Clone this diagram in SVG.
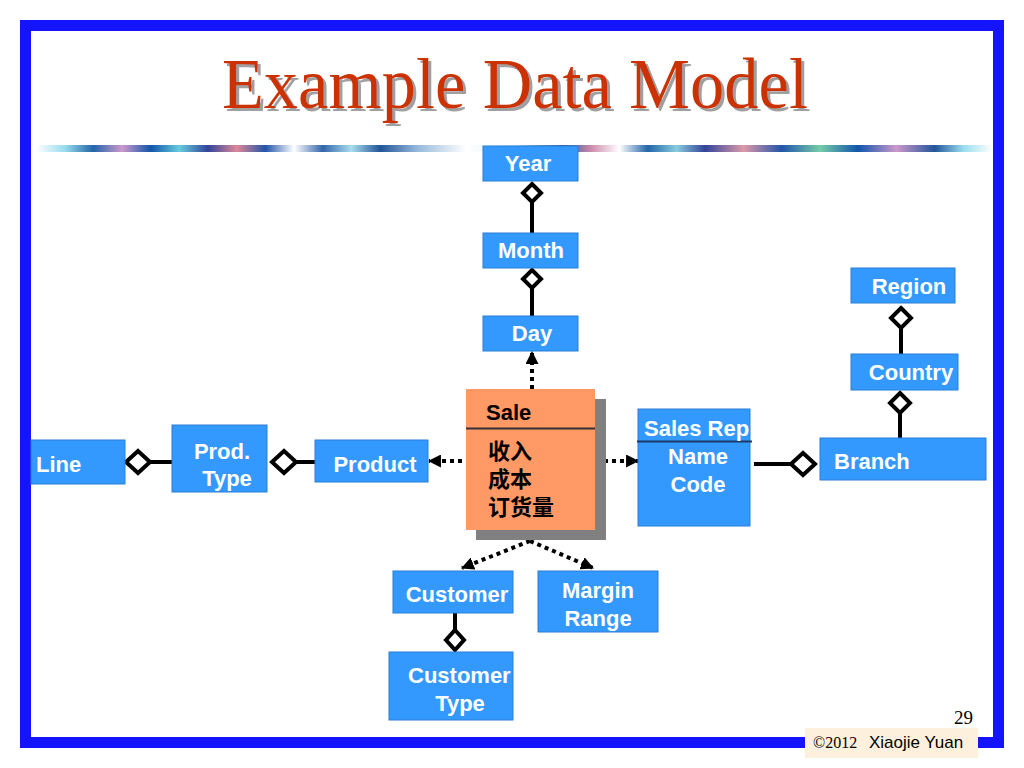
<svg xmlns="http://www.w3.org/2000/svg" width="1024" height="768" viewBox="0 0 1024 768">
<defs>
<linearGradient id="stripe" x1="0" y1="0" x2="1" y2="0">
<stop offset="0" stop-color="#ffffff"/>
<stop offset="0.03" stop-color="#99ddee"/>
<stop offset="0.06" stop-color="#2266aa"/>
<stop offset="0.09" stop-color="#cc99cc"/>
<stop offset="0.12" stop-color="#1155aa"/>
<stop offset="0.15" stop-color="#66ccdd"/>
<stop offset="0.18" stop-color="#334499"/>
<stop offset="0.21" stop-color="#dd8899"/>
<stop offset="0.24" stop-color="#2255aa"/>
<stop offset="0.27" stop-color="#ffffff"/>
<stop offset="0.30" stop-color="#3366aa"/>
<stop offset="0.33" stop-color="#aaddee"/>
<stop offset="0.36" stop-color="#225599"/>
<stop offset="0.40" stop-color="#99bbdd"/>
<stop offset="0.45" stop-color="#ffffff"/>
<stop offset="0.50" stop-color="#ddeeff"/>
<stop offset="0.55" stop-color="#225599"/>
<stop offset="0.58" stop-color="#cc88aa"/>
<stop offset="0.61" stop-color="#ffffff"/>
<stop offset="0.64" stop-color="#2266aa"/>
<stop offset="0.67" stop-color="#88ccdd"/>
<stop offset="0.70" stop-color="#334499"/>
<stop offset="0.74" stop-color="#dd99aa"/>
<stop offset="0.78" stop-color="#2255aa"/>
<stop offset="0.82" stop-color="#77ccaa"/>
<stop offset="0.86" stop-color="#1155aa"/>
<stop offset="0.90" stop-color="#cc99cc"/>
<stop offset="0.94" stop-color="#225599"/>
<stop offset="0.97" stop-color="#99ddee"/>
<stop offset="1" stop-color="#ffffff"/>
</linearGradient>
<filter id="shadow" x="-5%" y="-10%" width="115%" height="130%">
<feDropShadow dx="3" dy="3" stdDeviation="0.6" flood-color="#888888" flood-opacity="0.8"/>
</filter>
<marker id="arr" viewBox="0 0 12 12" refX="11" refY="6" markerWidth="13" markerHeight="13" markerUnits="userSpaceOnUse" orient="auto">
<path d="M0,0 L12,6 L0,12 Z" fill="#000"/>
</marker>
</defs>
<style>
.ent{fill:#3399ff;stroke:#2a7fd6;stroke-width:1}
.t{font-family:"Liberation Sans",Arial,sans-serif;font-weight:bold;font-size:22px;fill:#ffffff}
.tc{text-anchor:middle}
.st{font-family:"Liberation Sans","Noto Sans CJK SC",sans-serif;font-weight:bold;font-size:22px;fill:#000}
.solid{stroke:#000;stroke-width:4;fill:none}
.dot{stroke:#000;stroke-width:4;fill:none;stroke-dasharray:4 4}
.dia{fill:#fff;stroke:#000;stroke-width:4}
</style>
<rect x="25.5" y="25.5" width="973" height="717" fill="#ffffff" stroke="#1414ff" stroke-width="11"/>
<text x="222" y="108" textLength="586" lengthAdjust="spacingAndGlyphs" font-family="'Liberation Serif','Times New Roman',serif" font-size="72" fill="#cc3300" filter="url(#shadow)">Example Data Model</text>
<rect x="36" y="145" width="956" height="7" fill="url(#stripe)"/>

<g id="connectors">
<line class="solid" x1="532" y1="201" x2="532" y2="233"/>
<polygon class="dia" points="532,184 541,193 532,202 523,193"/>
<line class="solid" x1="532" y1="288" x2="532" y2="316"/>
<polygon class="dia" points="532,270 541,279 532,288 523,279"/>
<line class="dot" x1="532" y1="389" x2="532" y2="352" marker-end="url(#arr)"/>
<line class="solid" x1="901" y1="327" x2="901" y2="354"/>
<polygon class="dia" points="901,308 911,318 901,328 891,318"/>
<line class="solid" x1="900" y1="412" x2="900" y2="438"/>
<polygon class="dia" points="900,393 910,403 900,413 890,403"/>
<line class="solid" x1="754" y1="464" x2="792" y2="464"/>
<polygon class="dia" points="791,464 803,453 815,464 803,475"/>
<line class="dot" x1="604" y1="461" x2="638" y2="461" marker-end="url(#arr)"/>
<line class="dot" x1="462" y1="461" x2="429" y2="461" marker-end="url(#arr)"/>
<line class="solid" x1="294" y1="462" x2="315" y2="462"/>
<polygon class="dia" points="272,462 284,451 296,462 284,473"/>
<line class="solid" x1="148" y1="462" x2="172" y2="462"/>
<polygon class="dia" points="126,462 138,451 150,462 138,473"/>
<line class="dot" x1="530" y1="541" x2="462" y2="568" marker-end="url(#arr)"/>
<line class="dot" x1="530" y1="541" x2="593" y2="568" marker-end="url(#arr)"/>
<line class="solid" x1="455" y1="613" x2="455" y2="632"/>
<polygon class="dia" points="455,630 464,640 455,650 446,640"/>
</g>

<g id="year"><rect class="ent" x="483" y="146" width="95" height="35"/><text class="t tc" x="528" y="171">Year</text></g>
<g id="month"><rect class="ent" x="483" y="233" width="95" height="35"/><text class="t tc" x="531" y="258">Month</text></g>
<g id="day"><rect class="ent" x="483" y="316" width="95" height="35"/><text class="t tc" x="532" y="341">Day</text></g>
<g id="region"><rect class="ent" x="851" y="268" width="104" height="35"/><text class="t tc" x="909" y="294">Region</text></g>
<g id="country"><rect class="ent" x="851" y="354" width="107" height="36"/><text class="t tc" x="911" y="380">Country</text></g>
<g id="salesrep"><rect class="ent" x="638" y="409" width="112" height="117"/>
<line x1="637" y1="441.5" x2="752" y2="441.5" stroke="#1a3a66" stroke-width="2"/>
<text class="t" x="644" y="436">Sales Rep</text>
<text class="t tc" x="698" y="464">Name</text>
<text class="t tc" x="698" y="492">Code</text></g>
<g id="branch"><rect class="ent" x="820" y="438" width="166" height="42"/><text class="t" x="834" y="469">Branch</text></g>
<g id="sale"><rect x="476" y="399" width="130" height="141" fill="#808080"/>
<rect x="466" y="389" width="129" height="141" fill="#ff9966"/>
<line x1="466" y1="428.5" x2="595" y2="428.5" stroke="#333" stroke-width="2"/>
<text class="st" x="486" y="420">Sale</text>
<text class="st" x="488" y="459">收入</text>
<text class="st" x="488" y="487">成本</text>
<text class="st" x="488" y="515">订货量</text></g>
<g id="line"><rect class="ent" x="31" y="440" width="94" height="44"/><text class="t" x="36" y="472">Line</text></g>
<g id="prodtype"><rect class="ent" x="172" y="425" width="95" height="67"/><text class="t tc" x="222" y="459">Prod.</text><text class="t tc" x="227" y="486">Type</text></g>
<g id="product"><rect class="ent" x="315" y="440" width="113" height="42"/><text class="t tc" x="375" y="472">Product</text></g>
<g id="customer"><rect class="ent" x="393" y="571" width="120" height="42"/><text class="t tc" x="457" y="602">Customer</text></g>
<g id="margin"><rect class="ent" x="538" y="571" width="120" height="61"/><text class="t tc" x="598" y="598">Margin</text><text class="t tc" x="598" y="626">Range</text></g>
<g id="custtype"><rect class="ent" x="389" y="652" width="124" height="68"/><text class="t" x="408" y="683">Customer</text><text class="t tc" x="460" y="711">Type</text></g>

<text x="973" y="724" font-family="'Liberation Serif','Times New Roman',serif" font-size="19" text-anchor="end" fill="#000">29</text>
<rect x="805" y="728" width="173" height="30" fill="#fdf0dc"/>
<text x="813" y="748" font-family="'Liberation Serif','Times New Roman',serif" font-size="16" fill="#000">©2012</text>
<text x="869" y="748" font-family="'Liberation Sans',Arial,sans-serif" font-size="17" fill="#000">Xiaojie Yuan</text>
</svg>
